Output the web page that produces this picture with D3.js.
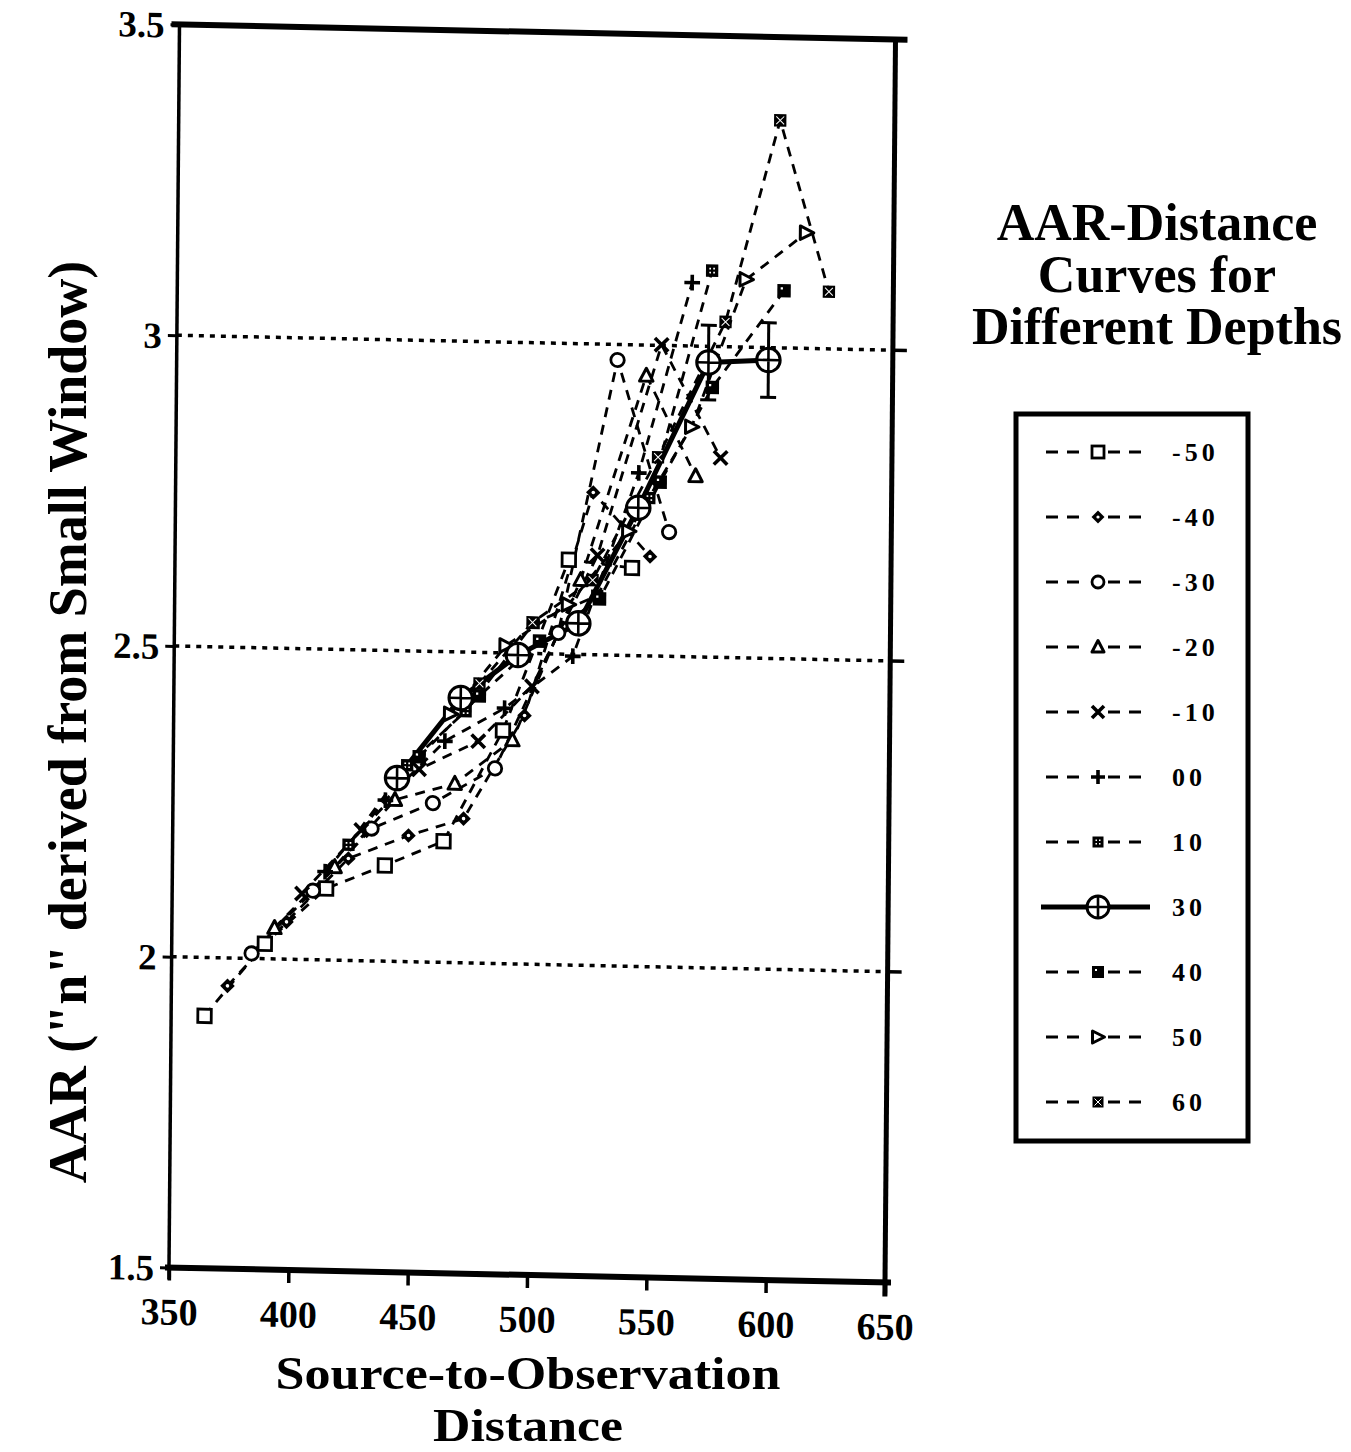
<!DOCTYPE html>
<html><head><meta charset="utf-8">
<script src="https://cdn.jsdelivr.net/npm/d3@7"></script>
<style>
body{margin:0;background:#fff}
svg text{font-family:"Liberation Serif","Times New Roman",serif;font-weight:bold;fill:#000}
</style>
</head><body>
<svg id="chart" width="1351" height="1452"></svg>
<script>
// ---- data (distance, AAR) ----
const depthLabels = ["-50","-40","-30","-20","-10","00","10","30","40","50","60"];
const markerTypes = ["square","diamond","circle","triangle","cross","plus","dotsquare","oplus","fillsquare","tright","star"];

const distM50 = [364,389,414.5,439,463.5,488,515,541.5];
const aarM50  = [1.906,2.024,2.115,2.154,2.195,2.375,2.652,2.641];
const distM40 = [373.5,398,423.7,448.8,471.8,497,525,549];
const aarM40  = [1.955,2.06,2.164,2.203,2.232,2.40,2.761,2.66];
const distM30 = [383.5,409,433.3,458.9,484.8,510.8,534.7,556.9];
const aarM30  = [2.008,2.111,2.213,2.256,2.314,2.534,2.975,2.70];
const distM20 = [393,418,443,468,492,520,546.8,567.8];
const aarM20  = [2.05,2.15,2.26,2.288,2.36,2.62,2.951,2.791];
const distM10 = [404.4,429,453,477.7,500,527,553.1,578.2];
const aarM10  = [2.106,2.21,2.31,2.357,2.447,2.66,3.001,2.821];
const dist00  = [414,439,463.7,488.6,517,544,565.7];
const aar00   = [2.142,2.259,2.356,2.411,2.497,2.794,3.102];
const dist10  = [423.7,448,472.3,500.5,527,548.5,574];
const aar10   = [2.186,2.316,2.405,2.549,2.595,2.754,3.122];
const dist30  = [443.8,470.2,494,519.2,543.9,572.8,597.9];
const aar30   = [2.295,2.426,2.497,2.55,2.738,2.974,2.98];
const err30   = [0,0,0,0,0,0.06,0.06];
const dist40  = [453,478,503,528,553,574.5,604.2];
const aar40   = [2.33,2.43,2.52,2.59,2.78,2.934,3.092];
const dist50  = [466,489,515,540,566,588.3,613.4];
const aar50   = [2.40,2.512,2.58,2.70,2.87,3.109,3.186];
const dist60  = [478,500,525,552,579.8,602,623];
const aar60   = [2.45,2.55,2.62,2.82,3.04,3.366,3.092];

const xTicks = [350,400,450,500,550,600,650];
const yTicks = [1.5,2,2.5,3,3.5];
const gridValues = [2,2.5,3];

const seriesDist = [distM50,distM40,distM30,distM20,distM10,dist00,dist10,dist30,dist40,dist50,dist60];
const seriesAar  = [aarM50,aarM40,aarM30,aarM20,aarM10,aar00,aar10,aar30,aar40,aar50,aar60];

// ---- layout ----
const svg = d3.select("#chart");
const W = 716, H = 1243;
const x = d3.scaleLinear().domain([350,650]).range([0,W]);
const y = d3.scaleLinear().domain([1.5,3.5]).range([H,0]);

// the scanned plot frame is slightly skewed
const g = svg.append("g").attr("transform","matrix(1,0.0209,-0.00845,1,179.5,24.5)");

// gridlines
g.selectAll(".grid").data(gridValues).enter().append("line")
  .attr("x1",0).attr("x2",W).attr("y1",d=>y(d)).attr("y2",d=>y(d))
  .attr("stroke","#000").attr("stroke-width",3.5).attr("stroke-dasharray","5,6");

// frame: top & right
g.append("line").attr("x1",-8).attr("x2",W+12).attr("y1",0).attr("y2",0).attr("stroke","#000").attr("stroke-width",6);
g.append("line").attr("x1",W).attr("x2",W).attr("y1",0).attr("y2",H+14).attr("stroke","#000").attr("stroke-width",5);
g.selectAll(".rtick").data(gridValues).enter().append("line")
  .attr("x1",W).attr("x2",W+14).attr("y1",d=>y(d)).attr("y2",d=>y(d)).attr("stroke","#000").attr("stroke-width",3.5);

// axes
const yAxis = g.append("g").call(d3.axisLeft(y).tickValues(yTicks).tickFormat(d3.format("")).tickSize(9).tickPadding(6));
yAxis.select(".domain").attr("stroke-width",3.5).attr("d",`M0,${H+12}V0`);
yAxis.selectAll(".tick line").attr("stroke-width",3);
yAxis.selectAll(".tick text").style("font-size","37px").attr("dy","0.34em");

const xAxis = g.append("g").attr("transform",`translate(0,${H})`)
  .call(d3.axisBottom(x).tickValues(xTicks).tickSize(13).tickPadding(10));
xAxis.select(".domain").attr("stroke-width",6).attr("d",`M-4,0H${W+6}`);
xAxis.selectAll(".tick line").attr("stroke-width",3.5);
xAxis.selectAll(".tick text").style("font-size","38px").attr("dy","0.9em");

// ---- markers ----
function marker(sel, type, scale){
  const k = scale||1;
  switch(type){
    case "square":
      sel.append("rect").attr("x",-6*k).attr("y",-6*k).attr("width",12*k).attr("height",12*k)
        .attr("fill","#fff").attr("stroke","#000").attr("stroke-width",2.8); break;
    case "diamond":
      sel.append("path").attr("d",`M0,${-6.5*k}L${6.5*k},0L0,${6.5*k}L${-6.5*k},0Z`).attr("fill","#000");
      sel.append("circle").attr("r",1.6*k).attr("fill","#fff"); break;
    case "circle":
      sel.append("circle").attr("r",6*k).attr("fill","#fff").attr("stroke","#000").attr("stroke-width",2.8); break;
    case "triangle":
      sel.append("path").attr("d",`M0,${-6.5*k}L${6*k},${5*k}L${-6*k},${5*k}Z`)
        .attr("fill","#fff").attr("stroke","#000").attr("stroke-width",3).attr("stroke-linejoin","round"); break;
    case "cross":
      sel.append("path").attr("d",`M${-6*k},${-6*k}L${6*k},${6*k}M${6*k},${-6*k}L${-6*k},${6*k}`)
        .attr("stroke","#000").attr("stroke-width",3.6); break;
    case "plus":
      sel.append("path").attr("d",`M${-7*k},0H${7*k}M0,${-7*k}V${7*k}`)
        .attr("stroke","#000").attr("stroke-width",3.6); break;
    case "dotsquare":
      sel.append("rect").attr("x",-5.5*k).attr("y",-5.5*k).attr("width",11*k).attr("height",11*k).attr("fill","#000");
      [[-2.5,-2.5],[1,-2.5],[-2.5,1],[1,1]].forEach(p=>sel.append("rect").attr("x",p[0]*k).attr("y",p[1]*k)
        .attr("width",1.5*k).attr("height",1.5*k).attr("fill","#fff")); break;
    case "oplus":
      sel.append("circle").attr("r",10.5*k).attr("fill","#fff").attr("stroke","#000").attr("stroke-width",3);
      sel.append("path").attr("d",`M${-10.5*k},0H${10.5*k}M0,${-10.5*k}V${10.5*k}`).attr("stroke","#000").attr("stroke-width",2.6); break;
    case "fillsquare":
      sel.append("rect").attr("x",-6*k).attr("y",-6*k).attr("width",12*k).attr("height",12*k).attr("fill","#000");
      sel.append("rect").attr("x",-3*k).attr("y",-3*k).attr("width",2*k).attr("height",2*k).attr("fill","#fff"); break;
    case "tright":
      sel.append("path").attr("d",`M${-5.5*k},${-6*k}L${6.5*k},0L${-5.5*k},${6*k}Z`)
        .attr("fill","#fff").attr("stroke","#000").attr("stroke-width",3).attr("stroke-linejoin","round"); break;
    case "star":
      sel.append("rect").attr("x",-5.5*k).attr("y",-5.5*k).attr("width",11*k).attr("height",11*k).attr("fill","#000");
      sel.append("path").attr("d",`M${-3.5*k},${-3.5*k}L${3.5*k},${3.5*k}M${3.5*k},${-3.5*k}L${-3.5*k},${3.5*k}`)
        .attr("stroke","#fff").attr("stroke-width",1); break;
  }
}

const line = d3.line().x(d=>x(d[0])).y(d=>y(d[1]));
const seriesG = g.append("g");

// dashed series first, solid 30 on top
const order = [0,1,2,3,4,5,6,8,9,10,7];
order.forEach(i=>{
  const pts = seriesDist[i].map((d,j)=>[d, seriesAar[i][j]]);
  const solid = depthLabels[i]==="30";
  seriesG.append("path").datum(pts).attr("d",line).attr("fill","none").attr("stroke","#000")
    .attr("stroke-width", solid?5:2.8).attr("stroke-dasharray", solid?null:"10,8");
});
// error bars on the 30 series
const eb = dist30.map((d,j)=>({d, v:aar30[j], e:err30[j]})).filter(o=>o.e>0);
eb.forEach(o=>{
  const ebg = seriesG.append("g").attr("stroke","#000").attr("stroke-width",3);
  ebg.append("line").attr("x1",x(o.d)).attr("x2",x(o.d)).attr("y1",y(o.v+o.e)).attr("y2",y(o.v-o.e));
  ebg.append("line").attr("x1",x(o.d)-8).attr("x2",x(o.d)+8).attr("y1",y(o.v+o.e)).attr("y2",y(o.v+o.e));
  ebg.append("line").attr("x1",x(o.d)-8).attr("x2",x(o.d)+8).attr("y1",y(o.v-o.e)).attr("y2",y(o.v-o.e));
});
order.forEach(i=>{
  seriesDist[i].forEach((d,j)=>{
    const mg = seriesG.append("g").attr("transform",`translate(${x(d)},${y(seriesAar[i][j])})`);
    marker(mg, markerTypes[i], 1.12);
  });
});

// ---- axis titles ----
svg.append("text").attr("x",528).attr("y",1389).attr("text-anchor","middle").style("font-size","47px")
  .attr("textLength",505).attr("lengthAdjust","spacingAndGlyphs").text("Source-to-Observation");
svg.append("text").attr("x",528).attr("y",1441).attr("text-anchor","middle").style("font-size","47px")
  .attr("textLength",190).attr("lengthAdjust","spacingAndGlyphs").text("Distance");
svg.append("text").attr("transform","translate(86,722) rotate(-90)").attr("text-anchor","middle")
  .style("font-size","54px").text('AAR ("n" derived from Small Window)');

// ---- legend ----
const lt = ["AAR-Distance","Curves for","Different Depths"];
svg.selectAll(".lt").data(lt).enter().append("text").attr("x",1157).attr("y",(d,i)=>240+i*52)
  .attr("text-anchor","middle").style("font-size","52px").text(d=>d);
svg.append("rect").attr("x",1016).attr("y",414).attr("width",232).attr("height",727)
  .attr("fill","none").attr("stroke","#000").attr("stroke-width",5);
const leg = svg.append("g");
depthLabels.forEach((lab,i)=>{
  const cy = 452 + i*65;
  const rg = leg.append("g").attr("transform",`translate(0,${cy})`);
  if(lab==="30"){
    rg.append("line").attr("x1",1041).attr("x2",1150).attr("y1",0).attr("y2",0).attr("stroke","#000").attr("stroke-width",5);
  } else {
    rg.append("line").attr("x1",1046).attr("x2",1088).attr("y1",0).attr("y2",0).attr("stroke","#000")
      .attr("stroke-width",3).attr("stroke-dasharray","12,9");
    rg.append("line").attr("x1",1108).attr("x2",1150).attr("y1",0).attr("y2",0).attr("stroke","#000")
      .attr("stroke-width",3).attr("stroke-dasharray","12,9");
  }
  const mg = rg.append("g").attr("transform","translate(1098,0)");
  marker(mg, markerTypes[i], lab==="30"?1.05:1);
  rg.append("text").attr("x",1172).attr("y",9).style("font-size","26px").style("letter-spacing","4px").text(lab);
});
</script>
</body></html>
